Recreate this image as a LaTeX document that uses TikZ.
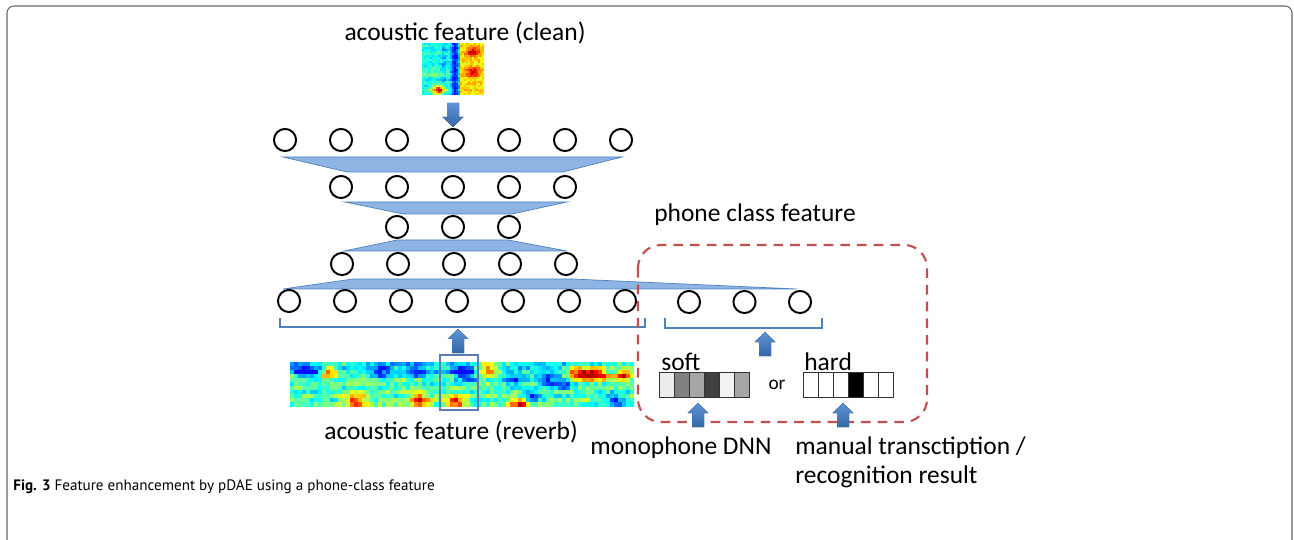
\documentclass[tikz,border=0pt]{standalone}
\usepackage{fontspec}
\setmainfont{Carlito}
\newfontfamily\capfont{PT Sans}
\usetikzlibrary{positioning}
\definecolor{bandfill}{HTML}{8EB4E3}
\definecolor{bandline}{HTML}{4F81BD}
\definecolor{arrtop}{HTML}{5E93D6}
\definecolor{arrbot}{HTML}{3567A6}
\definecolor{dashred}{HTML}{C0504D}
\definecolor{hiblue}{HTML}{5B7DB3}
\tikzset{
  neu/.style={circle,draw=black,line width=1.1pt,minimum size=12.6pt,inner sep=0pt},
  band/.style={fill=bandfill,draw=bandline,line width=0.4pt},
  brk/.style={draw=bandline,line width=0.8pt},
  barrow/.style={top color=arrtop,bottom color=arrbot,draw=none},
  phbox/.style={draw=dashred,line width=1.2pt,dash pattern=on 5.5pt off 4pt,rounded corners=13pt},
  hilite/.style={draw=hiblue,line width=1.4pt},
  lbl/.style={font=\fontsize{14.5}{16.5}\selectfont,inner sep=0pt},
  cellbox/.style={draw=black!80,line width=0.5pt,minimum width=8.5pt,minimum height=14.2pt,inner sep=0pt},
  outline/.style={draw=black!60,line width=0.6pt,rounded corners=4pt},
}
% block arrows, #1 = tip
\newcommand\uparr[1]{\fill[barrow] (#1) -- ++(10.5,10) -- ++(-4.5,0) -- ++(0,14) -- ++(-12,0) -- ++(0,-14) -- ++(-4.5,0) -- cycle;}
\newcommand\dnarr[1]{\fill[barrow] (#1) -- ++(10.5,-10) -- ++(-4.5,0) -- ++(0,-14) -- ++(-12,0) -- ++(0,14) -- ++(-4.5,0) -- cycle;}
% jet-coloured spectrogram: x0, y0, last i, last j, cell, value(\i,\j)
\newcommand\spectro[6]{%
  \begin{scope}
    \clip (#1,#2) rectangle ++({#5*(#3+1)},{#5*(#4+1)});
    \foreach \i in {0,...,#3}{
      \foreach \j in {0,...,#4}{
        \pgfmathsetmacro{\val}{max(0.14,min(0.95,#6))}
        \pgfmathsetmacro{\jr}{max(0,min(1,1.5-abs(4*\val-3)))}
        \pgfmathsetmacro{\jg}{max(0,min(1,1.5-abs(4*\val-2)))}
        \pgfmathsetmacro{\jb}{max(0,min(1,1.5-abs(4*\val-1)))}
        \definecolor{jet}{rgb}{\jr,\jg,\jb}
        \fill[jet] ({#1+#5*\i},{#2+#5*\j}) rectangle ++({#5+0.6},{#5+0.6});
      }}
  \end{scope}}

\begin{document}
\begin{tikzpicture}[x=0.02cm,y=-0.02cm,
  declare function={bl(\a,\b,\c,\d)=exp(-((\a-\c)*(\a-\c)/6+(\b-\d)*(\b-\d)/2.5));
                    bs(\a,\b,\c,\d)=exp(-((\a-\c)*(\a-\c)/12+(\b-\d)*(\b-\d)/5));}]
  \useasboundingbox (0,0) rectangle (1294,540);
  \pgfmathsetseed{7}
  \draw[outline] (7,540) -- (7,6) -- (1292,6) -- (1292,540);

  % spectrograms
  \spectro{422}{43}{30}{25}{2}{0.39+0.06*rand-0.26*exp(-(\i-16)*(\i-16)/3)-0.1*exp(-(\i-10.5)*(\i-10.5))
    +0.26*(\i>18)+0.03*sin(\j*97)+0.3*bs(\i,\j,25,4)+0.28*bs(\i,\j,25,14)+0.5*bs(\i,\j,8,23)
    +0.08*exp(-(\j-15)*(\j-15)/2)*(\i<14)}
  \spectro{290}{362}{85}{10}{4}{0.45+0.09*rand+0.05*sin(\j*137+\i*9)-0.08*(\j<3)
    +0.42*(bl(\i,\j,9,2)+bl(\i,\j,16,9)+bl(\i,\j,32,9)+bl(\i,\j,41,9.5)+bl(\i,\j,49,1.5)+bl(\i,\j,57,10)
    +bl(\i,\j,71,2.5)+bl(\i,\j,74,2.5)+bl(\i,\j,77,2.5)+bl(\i,\j,83,2.5))
    -0.26*(bl(\i,\j,2.5,1.5)+bl(\i,\j,6,2)+bl(\i,\j,22,2)+bl(\i,\j,31,2)+bl(\i,\j,42,1.5)+bl(\i,\j,44,3)
    +bl(\i,\j,56,4)+bl(\i,\j,64,4)+bl(\i,\j,68,5)+bl(\i,\j,81,9)+bl(\i,\j,60,8))}
  \draw[hilite] (440,355) rectangle (478,410);

  % bands between layers
  \draw[band] (283,157) -- (622,157) -- (563,172) -- (347,172) -- cycle;
  \draw[band] (345,202) -- (567,202) -- (512,214) -- (403,214) -- cycle;
  \draw[band] (397,240) -- (508,240) -- (567,251) -- (344,251) -- cycle;
  \draw[band] (283,289) -- (353,279) -- (572,279) -- (797,289) -- cycle;

  % units
  \foreach \k in {1,...,7} \node[neu] (out\k) at ({285+56*(\k-1)},140) {};
  \foreach \k in {2,...,6} \node[neu] (hA\k) at ({285+56*(\k-1)},187) {};
  \foreach \k in {3,...,5} \node[neu] (hB\k) at ({285+56*(\k-1)},227) {};
  \foreach \k in {2,...,6} \node[neu] (hC\k) at ({286+56*(\k-1)},264) {};
  \foreach \k in {1,...,7} \node[neu] (in\k) at ({289+56*(\k-1)},301) {};
  \foreach \k in {1,2,3} \node[neu] (ph\k) at ({689+55.5*(\k-1)},302) {};

  % brackets
  \draw[brk] (280,318) -- (280,327) -- (645,327) -- (645,318);
  \draw[brk] (665,318) -- (665,328) -- (822,328) -- (822,318);

  % phone class box
  \draw[phbox] (638,245) rectangle (927,422);
  \foreach \k/\g in {0/7,1/50,2/35,3/75,4/5,5/35}
    \node[cellbox,fill=black!\g] (s\k) at ({666.5+15*\k},384.5) {};
  \foreach \k/\g in {0/0,1/0,2/0,3/100,4/0,5/0}
    \node[cellbox,fill=black!\g] (h\k) at ({810.5+15*\k},384.5) {};

  % arrows
  \dnarr{453,127}
  \uparr{458,329}
  \uparr{765,332}
  \uparr{698,403}
  \uparr{843,403}

  % labels
  \node[lbl] (clean) at (465,33) {acoustic feature (clean)};
  \node[lbl] (reverb) at (451,432) {acoustic feature (reverb)};
  \node[lbl] (phlab) at (755,215) {phone class feature};
  \node[lbl,anchor=west] (soft) at (661,362) {soft};
  \node[lbl,anchor=west] (hard) at (804,362) {hard};
  \node[font=\fontsize{11}{13}\selectfont,inner sep=0pt] (or) at (777,385) {or};
  \node[lbl] (mono) at (681,448) {monophone DNN};
  \node[lbl,anchor=west,align=left] (manual) at (795,462.5) {manual transctiption /\\recognition result};
  \node[font=\capfont\fontsize{8.6}{10}\selectfont,anchor=west,inner sep=0pt] (cap) at (13,487)
    {\textbf{Fig. 3} Feature enhancement by pDAE using a phone-class feature};
\end{tikzpicture}
\end{document}
